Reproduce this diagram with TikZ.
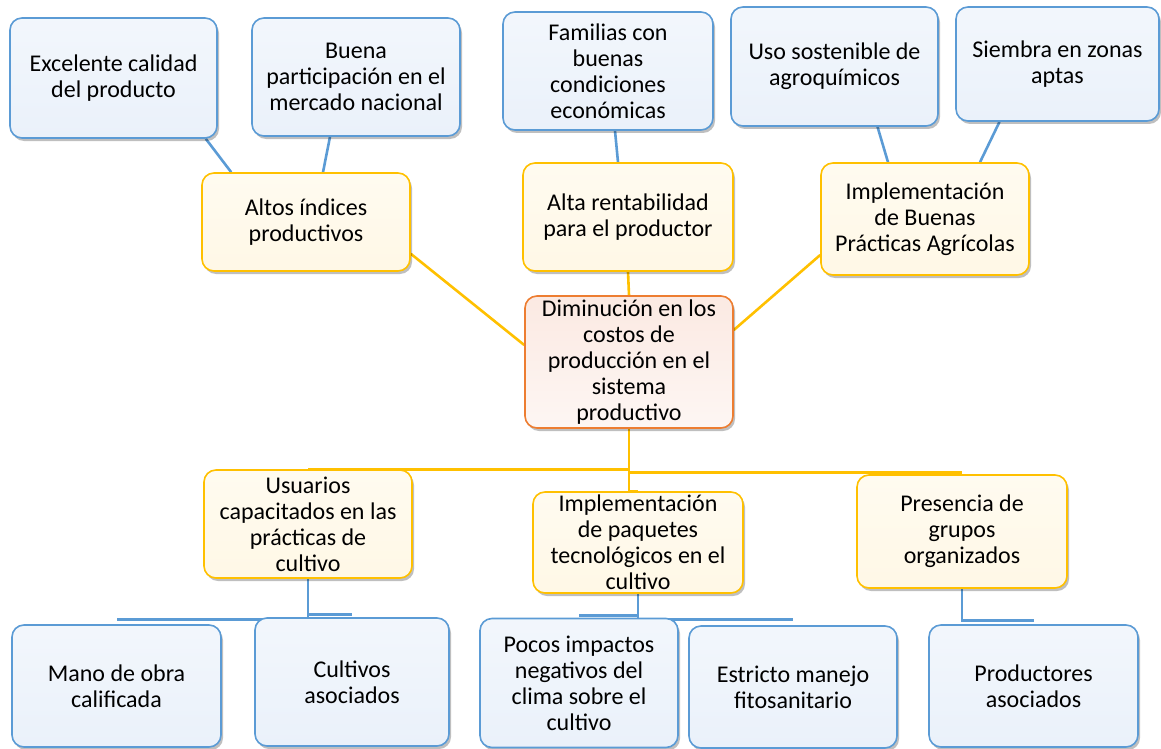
\documentclass[tikz,border=0pt]{standalone}
\usepackage{fontspec}
\setmainfont{Carlito}
\usetikzlibrary{shadows,backgrounds}
\definecolor{bline}{HTML}{5B9BD5}
\definecolor{bfill}{HTML}{EAF1FA}
\definecolor{yline}{HTML}{FFC000}
\definecolor{yfill}{HTML}{FFF8E6}
\definecolor{oline}{HTML}{ED7D31}
\definecolor{ofill}{HTML}{FBE9E2}
\tikzset{
  base/.style={rounded corners=12pt, line width=1.6pt, align=center, inner sep=1pt,
    font=\fontsize{24}{26}\selectfont, text=black,
    drop shadow={shadow xshift=2pt, shadow yshift=-3pt, fill=black, opacity=0.25}},
  bbox/.style={base, draw=bline, top color=bfill!60, bottom color=bfill},
  ybox/.style={base, draw=yline, top color=yfill!60, bottom color=yfill},
  obox/.style={base, draw=oline, top color=ofill, bottom color=ofill!40},
  bcon/.style={draw=bline, line width=2.6pt},
  ycon/.style={draw=yline, line width=2.6pt}
}
\begin{document}
\begin{tikzpicture}[x=1pt,y=-1pt]
\useasboundingbox (0,0) rectangle (1161,749);
% top blue
\node[bbox, minimum width=207pt, minimum height=120pt] (b1) at (113.5,78) {Excelente calidad\\del producto};
\node[bbox, minimum width=208pt, minimum height=118pt] (b2) at (356,77) {Buena\\participación en el\\mercado nacional};
\node[bbox, minimum width=210pt, minimum height=118pt] (b3) at (608,71) {Familias con\\buenas\\condiciones\\económicas};
\node[bbox, minimum width=207pt, minimum height=119pt] (b4) at (834.5,66.5) {Uso sostenible de\\agroquímicos};
\node[bbox, minimum width=203pt, minimum height=114pt] (b5) at (1057.5,64) {Siembra en zonas\\aptas};
% middle yellow
\node[ybox, minimum width=208pt, minimum height=98pt] (y1) at (306,222) {Altos índices\\productivos};
\node[ybox, minimum width=210pt, minimum height=108pt] (y2) at (628,217) {Alta rentabilidad\\para el productor};
\node[ybox, minimum width=208pt, minimum height=112pt] (y3) at (925,219) {Implementación\\de Buenas\\Prácticas Agrícolas};
% center
\node[obox, minimum width=208pt, minimum height=132pt] (c) at (629,362) {Diminución en los\\costos de\\producción en el\\sistema\\productivo};
% lower yellow
\node[ybox, minimum width=208pt, minimum height=108pt] (y4) at (308,524) {Usuarios\\capacitados en las\\prácticas de\\cultivo};
\node[ybox, minimum width=210pt, minimum height=101pt] (y5) at (638,542.5) {Implementación\\de paquetes\\tecnológicos en el\\cultivo};
\node[ybox, minimum width=210pt, minimum height=113pt] (y6) at (962,531.5) {Presencia de\\grupos\\organizados};
% bottom blue
\node[bbox, minimum width=209pt, minimum height=122pt] (d1) at (116.5,686) {Mano de obra\\calificada};
\node[bbox, minimum width=194pt, minimum height=128pt] (d2) at (352,682) {Cultivos\\asociados};
\node[bbox, minimum width=198pt, minimum height=129pt] (d3) at (579,683) {Pocos impactos\\negativos del\\clima sobre el\\cultivo};
\node[bbox, minimum width=208pt, minimum height=122pt] (d4) at (793,687) {Estricto manejo\\fitosanitario};
\node[bbox, minimum width=209pt, minimum height=122pt] (d5) at (1033.5,686) {Productores\\asociados};
\begin{scope}[on background layer]
\draw[bcon] ([xshift=-12pt]b1.south east) -- ([xshift=30pt]y1.north west);
\draw[bcon] ([xshift=-26pt]b2.south) -- ([xshift=17pt]y1.north);
\draw[bcon] ([xshift=7pt]b3.south) -- ([xshift=-10pt]y2.north);
\draw[bcon] ([xshift=43pt]b4.south) -- ([xshift=-37pt]y3.north);
\draw[bcon] ([xshift=-58pt]b5.south) -- ([xshift=55pt]y3.north);
\draw[ycon] ([yshift=18pt]y1.south east) -- ([yshift=17pt]c.west);
\draw[ycon] (y2.south) -- (c.north);
\draw[ycon] ([yshift=-36pt]y3.west) -- ([yshift=32pt]c.east);
\draw[ycon] (c.south) |- (y4.north);
\draw[ycon] (c.south) |- ([yshift=2pt]y6.north);
\draw[ycon] (c.south) |- (y5.north);
\draw[bcon] (y4.south) |- ([yshift=5pt]d1.north);
\draw[bcon] (y4.south) |- ([yshift=3pt]d2.north);
\draw[bcon] (y5.south) |- ([yshift=2pt]d3.north);
\draw[bcon] (y5.south) |- ([yshift=6pt]d4.north);
\draw[bcon] (y6.south) |- ([yshift=4pt]d5.north);
\end{scope}
\end{tikzpicture}
\end{document}
